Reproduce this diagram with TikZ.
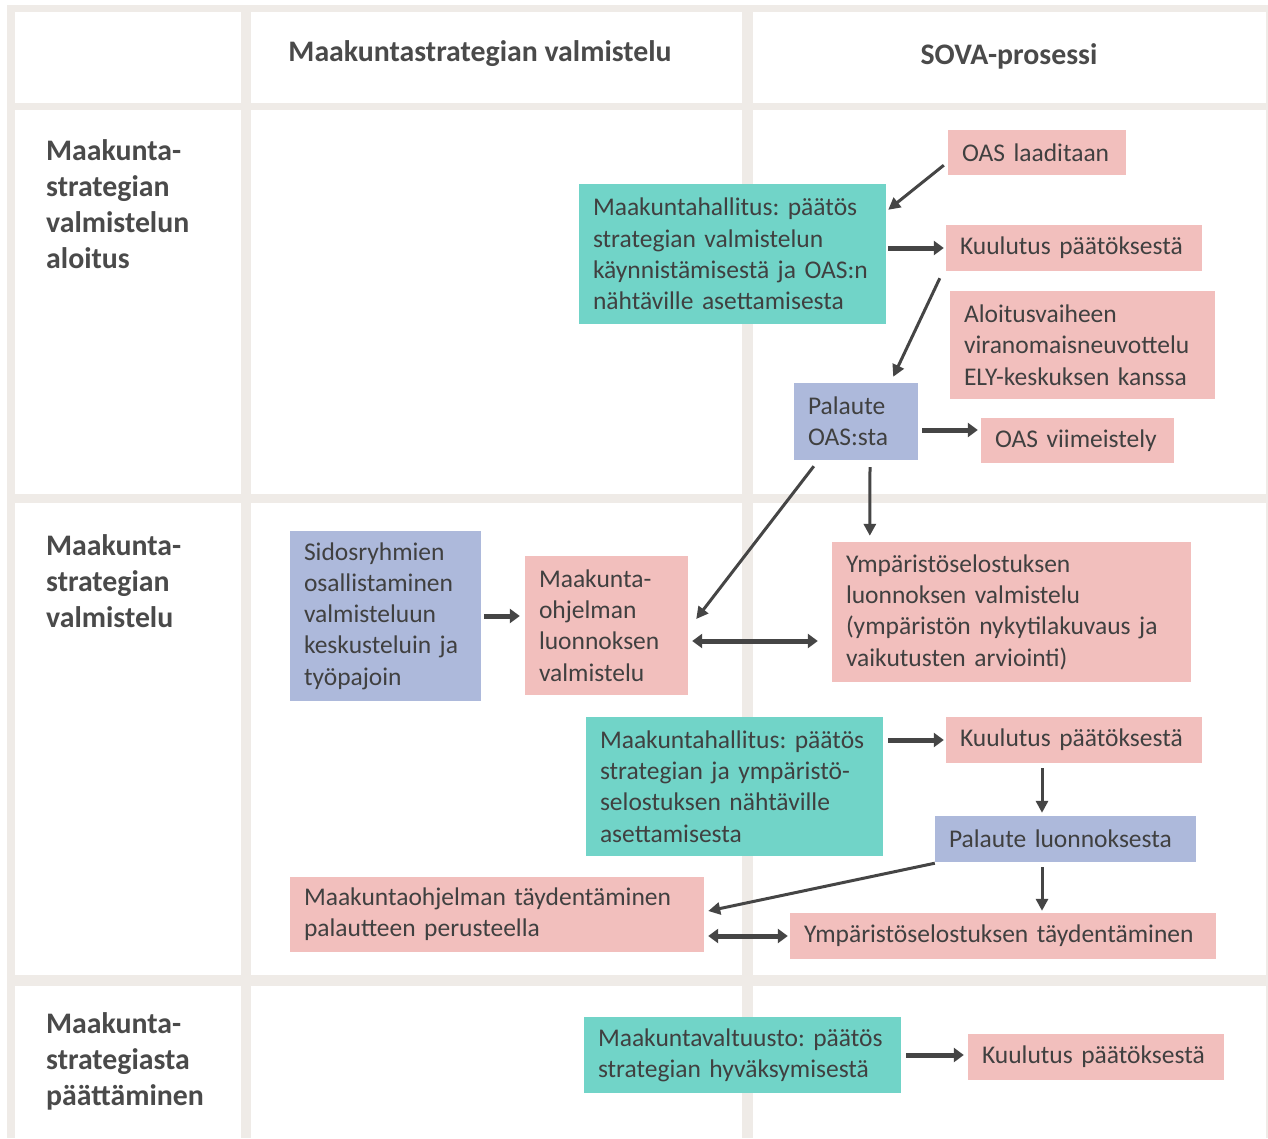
\documentclass[tikz,border=0pt]{standalone}
\usepackage{fontspec}
\setmainfont{Carlito}
\usetikzlibrary{arrows.meta,calc}
\frenchspacing

\definecolor{gridbeige}{HTML}{EFEBE7}
\definecolor{paatosfill}{HTML}{71D4C8}
\definecolor{vaihefill}{HTML}{F2BFBD}
\definecolor{palautefill}{HTML}{ADB9DB}
\definecolor{txtgray}{HTML}{404040}
\definecolor{headgray}{HTML}{4A4A4A}
\definecolor{arrgray}{HTML}{454545}

\tikzset{
  box/.style={rectangle, inner xsep=14pt, inner ysep=3pt, align=left, text=txtgray,
    font=\fontsize{25.5}{31.3}\selectfont},
  paatos/.style={box, fill=paatosfill},
  vaihe/.style={box, fill=vaihefill},
  palaute/.style={box, fill=palautefill},
  otsikko/.style={inner sep=0pt, text=headgray, font=\fontsize{29.8}{36}\selectfont\bfseries},
  rivi/.style={otsikko, align=left, anchor=west},
  pil/.style={draw=arrgray, line width=3pt, -{Triangle[length=12pt,width=12pt]}},
  lev/.style={draw=arrgray, line width=5pt, -{Triangle[length=10pt,width=14pt]}},
  kaksi/.style={draw=arrgray, line width=5pt, {Triangle[length=10pt,width=14pt]}-{Triangle[length=10pt,width=14pt]}},
}

\begin{document}
\begin{tikzpicture}[x=1pt, y=-1pt]
   \useasboundingbox (0,0) rectangle (1268,1138);
   \fill[white] (0,0) rectangle (1268,1138);
   % table grid
   \fill[gridbeige] (7,5) rectangle (1268,1138);
   \foreach \xa/\xb in {15/241, 251/742, 753/1266}
     \foreach \ya/\yb in {12/103, 110/494, 503/975, 986/1138}
       \fill[white] (\xa,\ya) rectangle (\xb,\yb);

   % headings
   \node[otsikko] (kolmas) at (480,54) {Maakuntastrategian valmistelu};
   \node[otsikko] (sova) at (1009,56) {SOVA-prosessi};
   \node[rivi] (aloitus) at (46,204) {Maakunta-\\strategian\\valmistelun\\aloitus};
   \node[rivi] (valmistelu) at (46,581) {Maakunta-\\strategian\\valmistelu};
   \node[rivi] (paattaminen) at (46,1061) {Maakunta-\\strategiasta\\päättäminen};

   % aloitus
   \node[vaihe, text width=150pt, minimum height=45pt] (oasl) at (1037,152.5) {OAS laaditaan};
   \node[paatos, text width=279pt, minimum height=140pt] (hall1) at (732.5,254)
     {Maakuntahallitus: päätös\\strategian valmistelun\\käynnistämisestä ja OAS:n\\nähtäville asettamisesta};
   \node[vaihe, text width=228pt, minimum height=46pt] (kuul1) at (1074,248) {Kuulutus päätöksestä};
   \node[vaihe, text width=237pt, minimum height=108pt] (aloi) at (1082.5,345)
     {Aloitusvaiheen\\viranomaisneuvottelu\\ELY-keskuksen kanssa};
   \node[palaute, text width=96pt, minimum height=77pt] (palo) at (856,421.5) {Palaute\\OAS:sta};
   \node[vaihe, text width=165pt, minimum height=45pt] (oasv) at (1077.5,440.5) {OAS viimeistely};

   % valmistelu
   \node[palaute, text width=163pt, minimum height=170pt] (sid) at (385.5,616)
     {Sidosryhmien\\osallistaminen\\valmisteluun\\keskusteluin ja\\työpajoin};
   \node[vaihe, text width=135pt, minimum height=139pt] (mko) at (606.5,625.5)
     {Maakunta-\\ohjelman\\luonnoksen\\valmistelu};
   \node[vaihe, text width=331pt, minimum height=140pt] (yluo) at (1011.5,612)
     {Ympäristöselostuksen\\luonnoksen valmistelu\\(ympäristön nykytilakuvaus ja\\vaikutusten arviointi)};
   \node[paatos, text width=269pt, minimum height=139pt] (hall2) at (734.5,786.5)
     {Maakuntahallitus: päätös\\strategian ja ympäristö-\\selostuksen nähtäville\\asettamisesta};
   \node[vaihe, text width=228pt, minimum height=46pt] (kuul2) at (1074,740) {Kuulutus päätöksestä};
   \node[palaute, text width=233pt, minimum height=46pt] (pall) at (1065.5,839) {Palaute luonnoksesta};
   \node[vaihe, text width=386pt, minimum height=75pt] (mkt) at (497,914.5)
     {Maakuntaohjelman täydentäminen\\palautteen perusteella};
   \node[vaihe, text width=398pt, minimum height=46pt] (ytd) at (1003,936) {Ympäristöselostuksen täydentäminen};

   % paattaminen
   \node[paatos, text width=289pt, minimum height=76pt] (valt) at (742.5,1055)
     {Maakuntavaltuusto: päätös\\strategian hyväksymisestä};
   \node[vaihe, text width=228pt, minimum height=46pt] (kuul3) at (1096,1057) {Kuulutus päätöksestä};

   % arrows
   \draw[pil] ($(oasl.south west)+(-4pt,10pt)$) -- ($(hall1.north east)+(2pt,-26pt)$);
   \draw[lev, shorten <=2pt, shorten >=2pt] (hall1.east |- kuul1.west) -- (kuul1.west);
   \draw[pil] ($(kuul1.south west)+(-6pt,-7pt)$) -- ($(palo.north east)+(-25pt,6pt)$);
   \draw[lev] ($(palo.east)+(4pt,-8.5pt)$) -- ($(oasv.west)+(-3pt,10.5pt)$);
   \draw[pil] ($(palo.south west)+(20pt,-6pt)$) -- ($(mko.east)+(8pt,6.5pt)$);
   \draw[pil] ($(palo.south)+(14pt,-7pt)$) -- ($(yluo.north west)+(38pt,6pt)$);
   \draw[lev, shorten <=3pt, shorten >=5pt] (sid.east) -- (sid.east -| mko.west);
   \draw[kaksi] ($(mko.east)+(4pt,-15.5pt)$) -- ($(yluo.west)+(-14pt,-29pt)$);
   \draw[lev, shorten <=5pt, shorten >=2pt] (hall2.east |- kuul2.west) -- (kuul2.west);
   \draw[pil] ($(kuul2.south)+(-32pt,-5pt)$) -- ($(pall.north)+(-23.5pt,3pt)$);
   \draw[pil] ($(pall.south west)+(0,-1pt)$) -- ($(mkt.east)+(4pt,3.5pt)$);
   \draw[pil] ($(pall.south)+(-23.5pt,-5pt)$) -- ($(ytd.north)+(39pt,2pt)$);
   \draw[kaksi, shorten <=4pt, shorten >=2pt] (ytd.west -| mkt.east) -- (ytd.west);
   \draw[lev, shorten <=5pt, shorten >=4pt] (valt.east) -- (valt.east -| kuul3.west);
\end{tikzpicture}
\end{document}
